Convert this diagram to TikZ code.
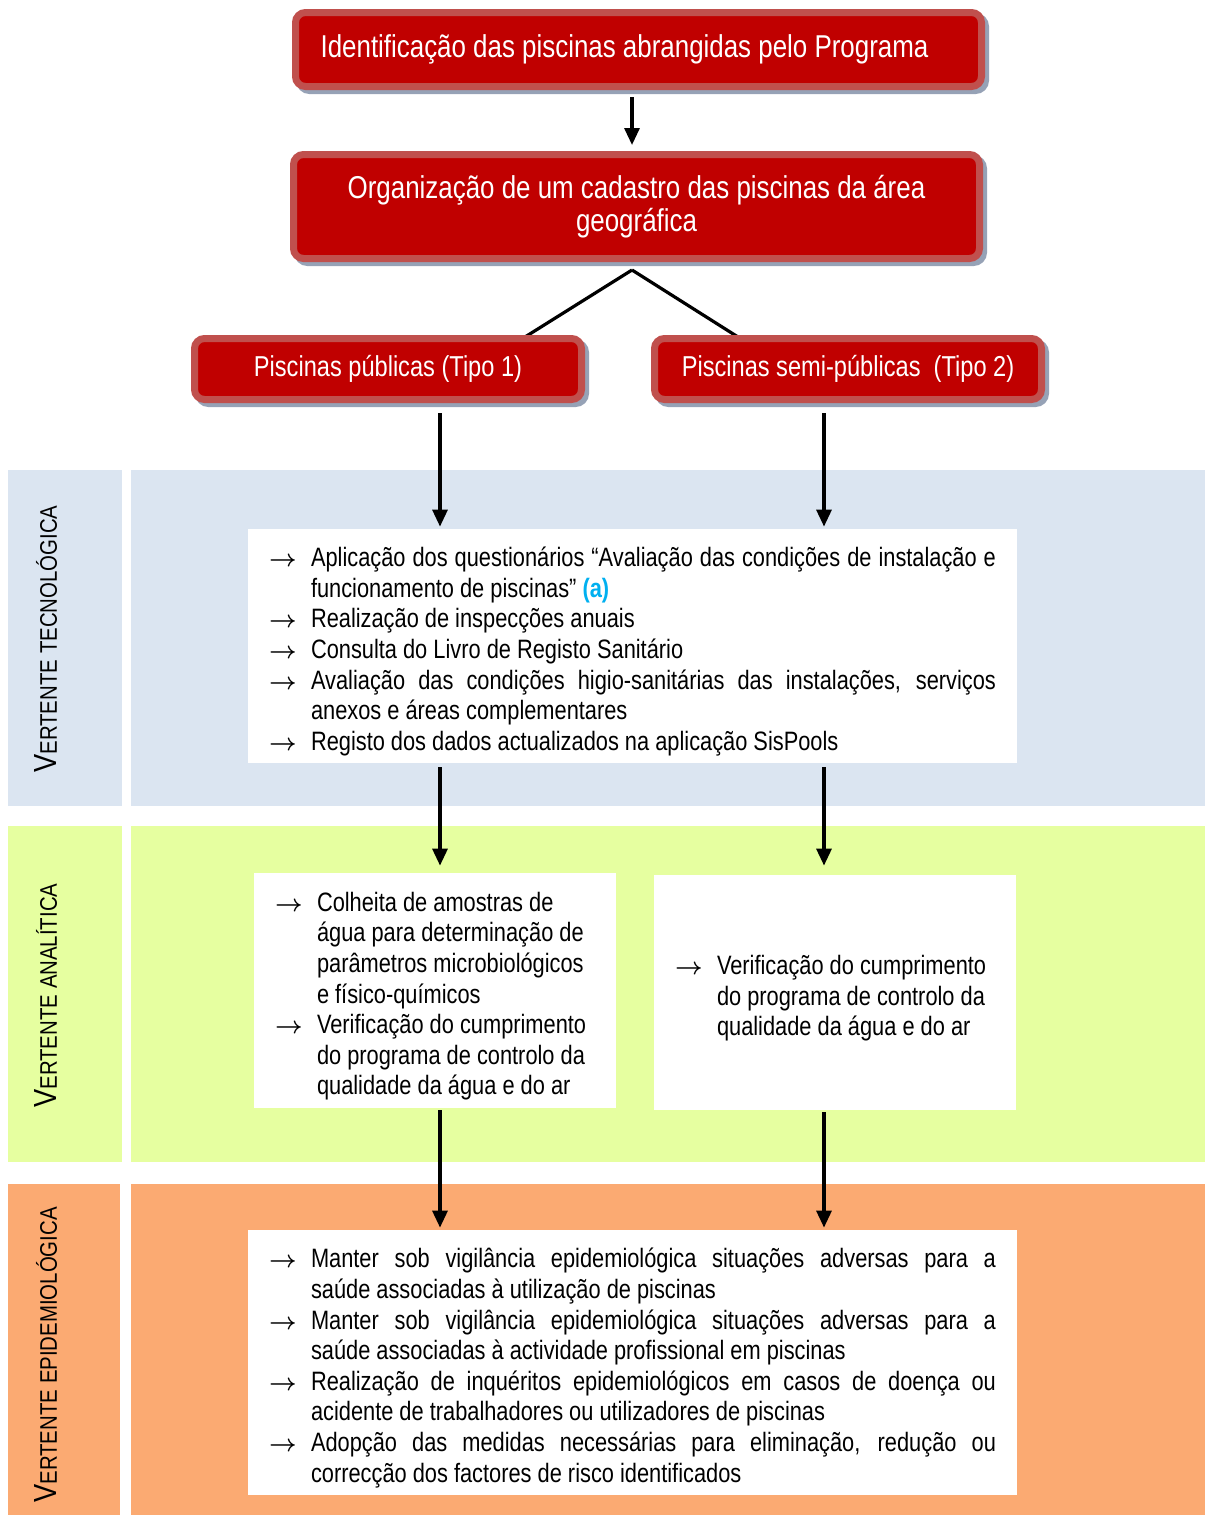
\documentclass[tikz,border=0pt]{standalone}
\usepackage{fontspec}
\setmainfont{Liberation Sans}[FakeStretch=0.82]
\newfontfamily\bandfont{Liberation Sans}[FakeStretch=0.85]
\usetikzlibrary{arrows.meta,shadows}

\definecolor{boxred}{RGB}{192,0,0}
\definecolor{borderred}{RGB}{192,80,77}
\definecolor{shadowgrey}{RGB}{150,162,182}
\definecolor{bandblue}{RGB}{219,229,241}
\definecolor{bandgreen}{RGB}{230,255,160}
\definecolor{bandorange}{RGB}{251,170,114}
\definecolor{notecyan}{RGB}{0,176,240}

\newcommand{\seta}{\par\noindent\hangindent=21pt\hangafter=1\makebox[21pt][l]{\fontsize{11.5}{11.5}\selectfont\boldmath$\rightarrow$}}
\newcommand{\vertente}[1]{{\bandfont\fontsize{16}{16}\selectfont V\fontsize{12}{12}\selectfont #1}}

\begin{document}
\begin{tikzpicture}
  [x=0.5pt,y=-0.5pt,>={Triangle[length=8.5pt,width=7.5pt]},
   titlebox/.style={rectangle,rounded corners=5pt,fill=boxred,draw=borderred,line width=3.5pt,
     text=white,align=center,font=\fontsize{15.8}{16.5}\selectfont,
     drop shadow={shadow xshift=2pt,shadow yshift=-2pt,opacity=1,fill=shadowgrey,draw=shadowgrey,line width=3.5pt}},
   smalltitle/.style={titlebox,font=\fontsize{14.4}{15}\selectfont},
   itembox/.style={rectangle,fill=white,inner xsep=10.5pt,inner ysep=0pt,align=justify,
     font=\fontsize{13.3}{15.3}\selectfont},
   bandlabel/.style={rotate=90,anchor=west,inner sep=0pt},
   flow/.style={->,line width=1.6pt},
   fork/.style={line width=1.6pt}]
  \useasboundingbox (0,0) rectangle (1205,1515);

  % faixas
  \fill[bandblue] (8,470) rectangle (122,806);
  \fill[bandblue] (131,470) rectangle (1205,806);
  \fill[bandgreen] (8,826) rectangle (122,1162);
  \fill[bandgreen] (131,826) rectangle (1205,1162);
  \fill[bandorange] (8,1184) rectangle (120,1515);
  \fill[bandorange] (131,1184) rectangle (1205,1515);

  \node[bandlabel] (ltec) at (46,773) {\vertente{ERTENTE TECNOLÓGICA}};
  \node[bandlabel] (lana) at (46,1108) {\vertente{ERTENTE ANALÍTICA}};
  \node[bandlabel] (lepi) at (46,1503) {\vertente{ERTENTE EPIDEMIOLÓGICA}};

  % topo
  \coordinate (cx) at (632,0);
  \coordinate (apex) at (632,270);
  \coordinate (forkl) at (525,337);
  \coordinate (forkr) at (738,337);
  \coordinate (col1) at (440,0);
  \coordinate (col2) at (824,0);

  \draw[fork] (apex) -- (forkl);
  \draw[fork] (apex) -- (forkr);

  \node[titlebox,minimum width=343pt,minimum height=37pt] (nident) at (638.5,49.5)
    {Identificação das piscinas abrangidas pelo Programa\hspace*{14pt}};
  \node[titlebox,minimum width=343pt,minimum height=52pt] (ncad) at (636.5,206.5)
    {Organização de um cadastro das piscinas da área\\geográfica};
  \node[smalltitle,minimum width=193.5pt,minimum height=30.5pt] (npub) at (388,369)
    {Piscinas públicas (Tipo 1)};
  \node[smalltitle,minimum width=193.5pt,minimum height=30.5pt] (nsemi) at (848,369)
    {Piscinas semi-públicas\ \ (Tipo 2)};

  % caixas
  \node[itembox,text width=363.5pt,minimum height=117pt] (wtec) at (632.5,646) {%
    \seta Aplicação dos questionários “Avaliação das condições de instalação e\linebreak
      funcionamento de piscinas” {\color{notecyan}\bfseries(a)}
    \seta Realização de inspecções anuais
    \seta Consulta do Livro de Registo Sanitário
    \seta Avaliação das condições higio-sanitárias das instalações, serviços\linebreak
      anexos e áreas complementares
    \seta Registo dos dados actualizados na aplicação SisPools\par};
  \node[itembox,text width=160pt,minimum height=117.5pt] (wana1) at (435,990.5) {%
    \seta Colheita de amostras de\\água para determinação de\\parâmetros microbiológicos\\e físico-químicos
    \seta Verificação do cumprimento\\do programa de controlo da\\qualidade da água e do ar\par};
  \node[itembox,text width=160pt,minimum height=117.5pt] (wana2) at (835,992.5) {%
    \seta Verificação do cumprimento\\do programa de controlo da\\qualidade da água e do ar\par};
  \node[itembox,text width=363.5pt,minimum height=132.5pt] (wepi) at (632.5,1362.5) {%
    \seta Manter sob vigilância epidemiológica situações adversas para a\linebreak
      saúde associadas à utilização de piscinas
    \seta Manter sob vigilância epidemiológica situações adversas para a\linebreak
      saúde associadas à actividade profissional em piscinas
    \seta Realização de inquéritos epidemiológicos em casos de doença ou\linebreak
      acidente de trabalhadores ou utilizadores de piscinas
    \seta Adopção das medidas necessárias para eliminação, redução ou\linebreak
      correcção dos factores de risco identificados\par};

  % setas
  \draw[flow,shorten <=3.5pt,shorten >=3pt] (nident.south -| cx) -- (ncad.north -| cx);
  \draw[flow,shorten <=5pt,shorten >=1pt] (npub.south -| col1) -- (wtec.north -| col1);
  \draw[flow,shorten <=5pt,shorten >=1pt] (nsemi.south -| col2) -- (wtec.north -| col2);
  \draw[flow,shorten <=2pt,shorten >=3.5pt] (wtec.south -| col1) -- (wana1.north -| col1);
  \draw[flow,shorten <=2pt,shorten >=4.5pt] (wtec.south -| col2) -- (wana2.north -| col2);
  \draw[flow,shorten <=1pt,shorten >=1pt] (wana1.south -| col1) -- (wepi.north -| col1);
  \draw[flow,shorten <=1pt,shorten >=1pt] (wana2.south -| col2) -- (wepi.north -| col2);
\end{tikzpicture}
\end{document}
